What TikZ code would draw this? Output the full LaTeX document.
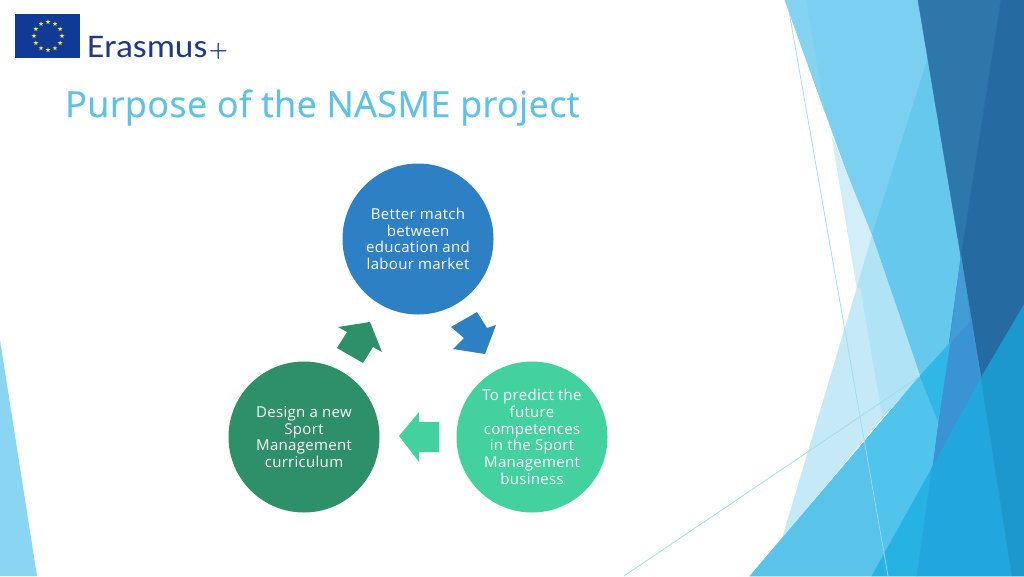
\documentclass[tikz,border=0pt]{standalone}
\usepackage{fontspec}
\setmainfont[LetterSpace=2.0]{Open Sans}
\newfontfamily\titlefont[LetterSpace=1.1,FakeBold=0.3]{Open Sans}
\newfontfamily\logofont[FakeStretch=1.07]{Carlito}
\newfontfamily\plusfont[FakeBold=1.5]{Latin Modern Roman}
\definecolor{cA}{HTML}{7BCFF0}\definecolor{cAb}{HTML}{83D3F1}
\definecolor{cB}{HTML}{65C8EC}\definecolor{cC}{HTML}{2E77AB}
\definecolor{cD}{HTML}{266AA2}\definecolor{cE}{HTML}{3A93D2}\definecolor{cEb}{HTML}{449CD6}
\definecolor{cF}{HTML}{D2EEF9}\definecolor{cG}{HTML}{B0E3F6}
\definecolor{cH}{HTML}{C5E9F6}\definecolor{cI}{HTML}{59C3EA}
\definecolor{cJ}{HTML}{50C4EC}\definecolor{cK}{HTML}{2FB8E6}
\definecolor{cL}{HTML}{27B2E4}\definecolor{cM}{HTML}{21A6DE}
\definecolor{cN}{HTML}{1C98CD}\definecolor{cLine}{HTML}{9CDCEF}
\definecolor{cSide}{HTML}{8AD5F2}
\definecolor{cTitle}{HTML}{5EC2E8}\definecolor{cFlag}{HTML}{0F3A96}
\definecolor{cLogo}{HTML}{1F3A82}\definecolor{cStar}{HTML}{F2E24A}
\definecolor{cOne}{HTML}{2E80C4}\definecolor{cTwo}{HTML}{44D1A0}\definecolor{cThree}{HTML}{2E9068}
\tikzset{
 bubble/.style={circle,minimum size=151pt,inner sep=0pt,text=white,align=center,font=\fontsize{15}{16.7}\selectfont},
 thinline/.style={draw=cLine,line width=.7pt},
 facet/.style={fill=#1,draw=#1,line width=.5pt}
}
\begin{document}
\begin{tikzpicture}[x=1pt,y=-1pt]
\useasboundingbox (0,0) rectangle (1024,576);
\fill[white] (0,0) rectangle (1024,576);
% background facets
\fill[cSide] (0,340) -- (37,576) -- (0,576) -- cycle;
\path[facet=cA] (785,0) -- (918,0) -- (961,257) -- (950,343) -- (920,376) -- cycle;
\path[facet=cAb] (785,0) -- (806,0) -- (825,112) -- cycle;
\path[facet=cB] (928,58) -- (872,236) -- (920,376) -- (950,343) -- (961,257) -- cycle;
\path[facet=cC] (918,0) -- (1001,0) -- (961,257) -- cycle;
\path[facet=cD] (1001,0) -- (1024,0) -- (1024,305) -- (981,378) -- (961,257) -- cycle;
\path[facet=cE] (961,257) -- (981,378) -- (932,468) -- cycle;
\path[facet=cEb] (961,257) -- (970,321) -- (950,343) -- cycle;
\path[facet=cF] (832,137) -- (857,288) -- (872,236) -- cycle;
\path[facet=cG] (872,236) -- (857,288) -- (860,288) -- (882,418) -- (920,376) -- cycle;
\path[facet=cH] (857,288) -- (860,288) -- (882,418) -- (783,536) -- cycle;
\path[facet=cI] (920,376) -- (750,576) -- (872,576) -- (932,468) -- cycle;
\path[facet=cJ] (920,376) -- (865,441) -- (885,553) -- (932,468) -- (938,421) -- cycle;
\path[facet=cK] (920,376) -- (950,343) -- (938,421) -- cycle;
\path[facet=cL] (932,468) -- (872,576) -- (917,576) -- cycle;
\path[facet=cM] (932,468) -- (981,378) -- (1012,576) -- (917,576) -- cycle;
\path[facet=cN] (981,378) -- (1024,305) -- (1024,576) -- (1012,576) -- cycle;
\draw[thinline] (787,0) -- (888,576);
\draw[thinline] (920,376) -- (624,576);
% logo
\fill[cFlag] (15,14) rectangle (80,58);
\foreach \a in {0,30,...,330}{
 \begin{scope}[shift={({48+14*cos(\a)},{36+14*sin(\a)})}]
 \fill[cStar] (-90:2.6) -- (54:2.6) -- (198:2.6) -- (342:2.6) -- (126:2.6) -- cycle;
 \end{scope}}
\node[anchor=base west,inner sep=0pt,text=cLogo,font=\logofont\fontsize{33}{33}\selectfont] (logo) at (87,57) {Erasmus{\plusfont\fontsize{25}{25}\selectfont\kern2pt +}};
% title
\node[anchor=base west,inner sep=0pt,text=cTitle,font=\titlefont\fontsize{36}{36}\selectfont] (title) at (65,117) {Purpose of the NASME project};
% circles
\node[bubble,fill=cOne] (one) at (418,239) {Better match\\between\\education and\\labour market};
\node[bubble,fill=cTwo] (two) at (532,437) {To predict the\\future\\competences\\in the Sport\\Management\\business};
\node[bubble,fill=cThree] (three) at (304,437) {Design a new\\Sport\\Management\\curriculum};
% block arrows
\fill[cOne] (477,312) -- (487,328) -- (496,325) -- (485,354) -- (453,349) -- (464,338) -- (451,327) -- cycle;
\fill[cTwo] (419,412) -- (399,436) -- (419,462) -- (419,452) -- (439,452) -- (439,422) -- (419,422) -- cycle;
\fill[cThree] (370,322) -- (382,352) -- (373,347) -- (363,363) -- (337,348) -- (347,332) -- (338,327) -- cycle;
\end{tikzpicture}
\end{document}
